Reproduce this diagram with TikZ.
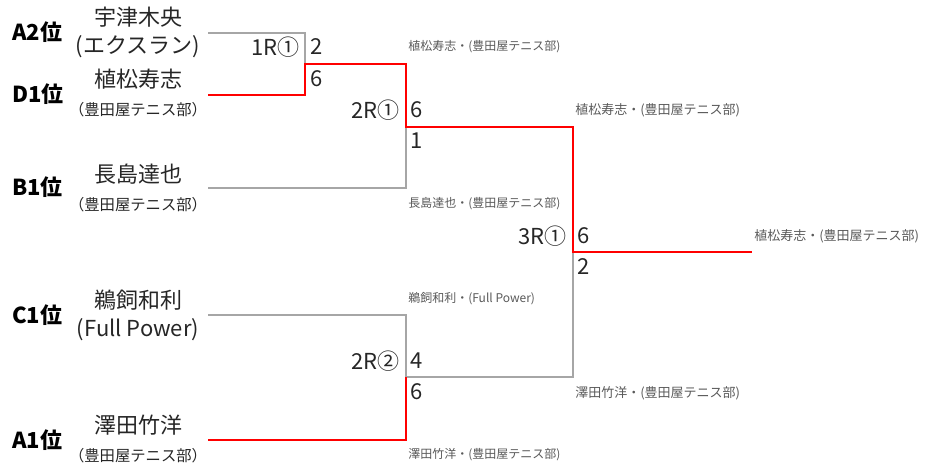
\documentclass[tikz,border=0pt]{standalone}
\usepackage{fontspec}
\setmainfont{Noto Sans CJK JP}
\usetikzlibrary{positioning}

\definecolor{linegray}{HTML}{A6A6A6}
\definecolor{winred}{HTML}{FF0000}
\definecolor{textgray}{HTML}{262626}
\definecolor{notegray}{HTML}{595959}

\begin{document}
\begin{tikzpicture}[x=0.75pt,y=-0.75pt,
  seed/.style={anchor=west,font=\bfseries\fontsize{16.5}{18}\selectfont,inner sep=0pt},
  player/.style={font=\fontsize{16.5}{18}\selectfont,text=textgray,inner sep=0pt},
  club/.style={font=\fontsize{11.5}{13}\selectfont,text=textgray,inner sep=0pt},
  matchlbl/.style={anchor=east,font=\fontsize{16.5}{18}\selectfont,text=textgray,inner sep=0pt},
  score/.style={anchor=west,font=\fontsize{16.5}{18}\selectfont,text=textgray,inner sep=0pt},
  result/.style={anchor=west,font=\fontsize{9}{10}\selectfont,text=notegray,inner sep=0pt},
  bigresult/.style={result,font=\fontsize{9.75}{11}\selectfont},
  lose/.style={draw=linegray,line width=1.5pt},
  win/.style={draw=winred,line width=1.5pt}]
\useasboundingbox (0,0) rectangle (927,469);

% Seeds
\node[seed] (sA2) at (12,32) {A2位};
\node[seed] (sD1) at (12,94) {D1位};
\node[seed] (sB1) at (12,187) {B1位};
\node[seed] (sC1) at (12,315) {C1位};
\node[seed] (sA1) at (12,440) {A1位};

% Players
\node[player] (nA2) at (138,17) {宇津木央};
\node[player] (cA2) at (138,47) {(エクスラン)};
\node[player] (nD1) at (138,79) {植松寿志};
\node[club] (cD1) at (138,110) {（豊田屋テニス部）};
\node[player] (nB1) at (138,174) {長島達也};
\node[club] (cB1) at (138,205) {（豊田屋テニス部）};
\node[player] (nC1) at (138,300) {鵜飼和利};
\node[player] (cC1) at (138,330) {(Full Power)};
\node[player] (nA1) at (138,425) {澤田竹洋};
\node[club] (cA1) at (138,456) {（豊田屋テニス部）};

% Bracket points
\coordinate (pA2) at (208,33);
\coordinate (pD1) at (208,95);
\coordinate (pB1) at (208,188);
\coordinate (pC1) at (208,315);
\coordinate (pA1) at (208,440);
\coordinate (r1) at (305,64);
\coordinate (s1) at (406,127);
\coordinate (s2) at (406,377);
\coordinate (f1) at (573,252);
\coordinate (champ) at (752,252);

% Losing lines
\draw[lose] (pA2) -| (r1);
\draw[lose] (pB1) -| (s1);
\draw[lose] (pC1) -| (s2) -| (f1);

% Winning lines
\draw[win] (pD1) -| (r1) -| (s1) -| (f1) -- (champ);
\draw[win] (pA1) -| (s2);

% Match labels and scores
\node[matchlbl] (m1) at (300,47) {1R①};
\node[score] (m1a) at (310,47) {2};
\node[score] (m1b) at (310,79) {6};

\node[matchlbl] (m2) at (400,110) {2R①};
\node[score] (m2a) at (410,110) {6};
\node[score] (m2b) at (410,141) {1};

\node[matchlbl] (m3) at (400,361) {2R②};
\node[score] (m3a) at (410,361) {4};
\node[score] (m3b) at (410,392) {6};

\node[matchlbl] (m4) at (567,236) {3R①};
\node[score] (m4a) at (577,236) {6};
\node[score] (m4b) at (577,267) {2};

% Results
\node[result] (w1) at (408,47) {植松寿志・(豊田屋テニス部)};
\node[result] (w1b) at (408,204) {長島達也・(豊田屋テニス部)};
\node[bigresult] (w2) at (575,110) {植松寿志・(豊田屋テニス部)};
\node[result] (w3a) at (408,299) {鵜飼和利・(Full Power)};
\node[result] (w3b) at (408,455) {澤田竹洋・(豊田屋テニス部)};
\node[bigresult] (w3) at (575,393) {澤田竹洋・(豊田屋テニス部)};
\node[bigresult] (w4) at (754,236) {植松寿志・(豊田屋テニス部)};
\end{tikzpicture}
\end{document}
